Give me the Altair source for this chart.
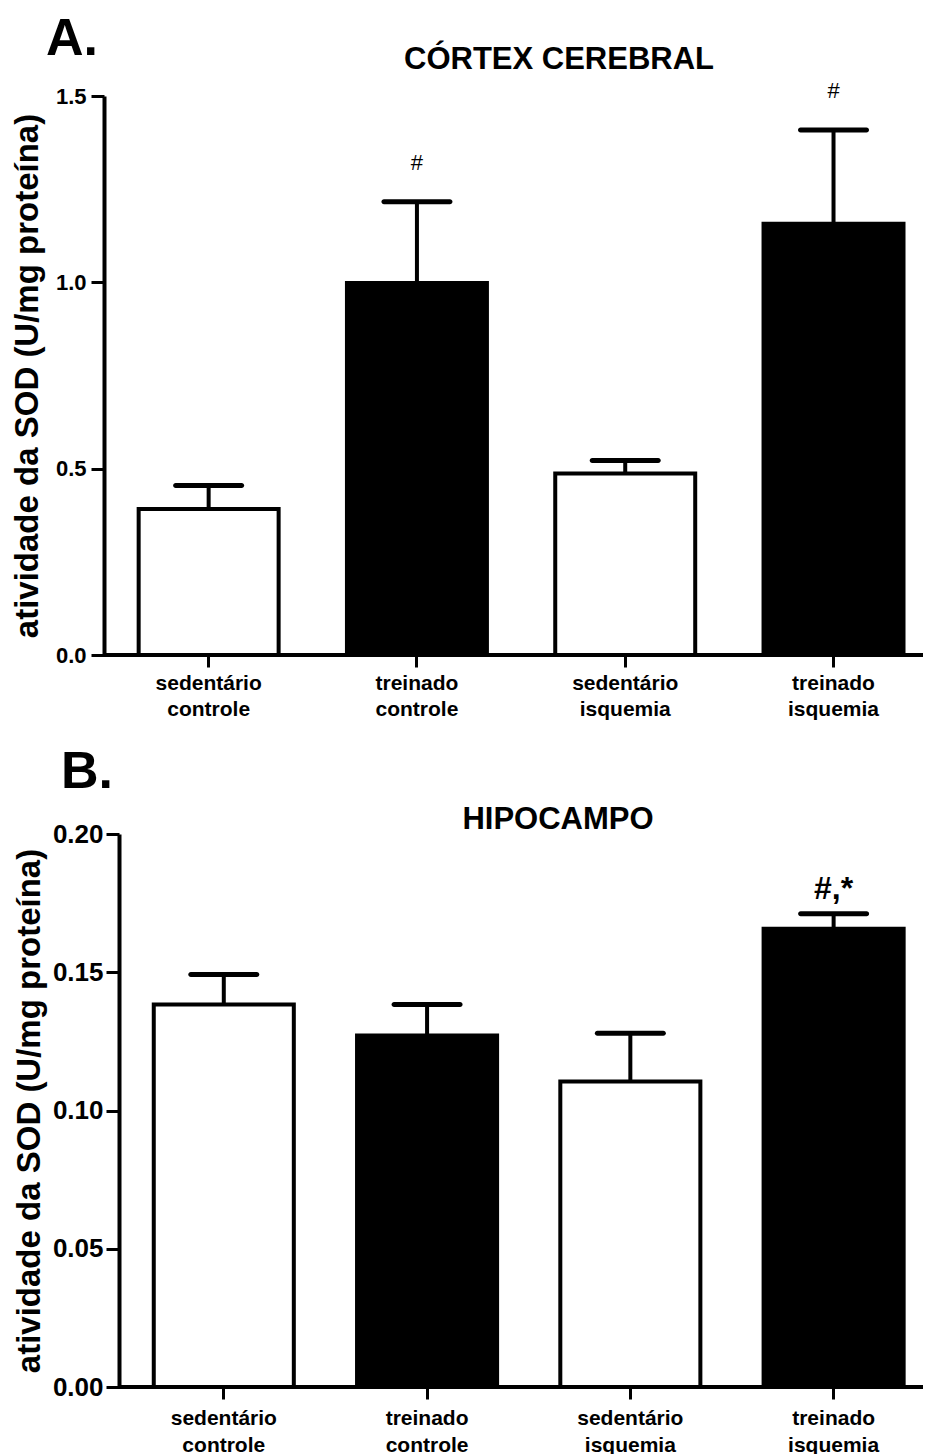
import altair as alt
import pandas as pd

# ---- data ----
categories = ["sedentário|controle", "treinado|controle", "sedentário|isquemia", "treinado|isquemia"]
groups = ["sedentário", "treinado", "sedentário", "treinado"]

cortex_mean = [0.392, 0.998, 0.487, 1.157]
cortex_sem = [0.063, 0.218, 0.035, 0.252]
cortex_marks = ["", "#", "", "#"]

hippo_mean = [0.1383, 0.1271, 0.1105, 0.1657]
hippo_sem = [0.0109, 0.0112, 0.0174, 0.0055]
hippo_marks = ["", "", "", "#,*"]

cortex_ticks = [0.0, 0.5, 1.0, 1.5]
hippo_ticks = [0.0, 0.05, 0.10, 0.15, 0.20]

FONT = "Liberation Sans"
YTITLE = "atividade da SOD (U/mg proteína)"
W = 819


def panel(mean, sem, marks, ticks, fmt, height, pi, po, align,
          tick_font, tick_pad, title_x, y_offset, x_pad, x_lh, letter, letter_xy, head, head_xy,
          mark_font, mark_weight, mark_dy):
    df = pd.DataFrame({
        "cat": categories,
        "grp": groups,
        "mean": mean,
        "top": [m + s for m, s in zip(mean, sem)],
        "mark": marks,
    })
    base = alt.Chart(df)
    xscale = alt.Scale(paddingInner=pi, paddingOuter=po, align=align)
    x = alt.X("cat:N", sort=categories, scale=xscale,
              axis=alt.Axis(title=None, labelExpr="split(datum.label, '|')",
                            labelAngle=0, labelFont=FONT, labelFontWeight="bold",
                            labelFontSize=21, labelColor="black", labelLineHeight=x_lh,
                            labelPadding=x_pad, tickSize=12, tickWidth=3, tickColor="black",
                            domain=False))
    xs = alt.X("cat:N", sort=categories, scale=xscale)
    yscale = alt.Scale(domain=[ticks[0], ticks[-1]], nice=False)
    y = alt.Y("mean:Q", scale=yscale,
              axis=alt.Axis(values=ticks, format=fmt, title=YTITLE, grid=False,
                            titleFont=FONT, titleFontSize=33, titleFontWeight="bold",
                            titleColor="black", titleX=title_x, offset=y_offset,
                            labelFont=FONT, labelFontSize=tick_font, labelFontWeight="bold",
                            labelColor="black", labelPadding=tick_pad,
                            tickSize=13, tickWidth=3, tickColor="black",
                            domainWidth=4, domainColor="black"))
    bars = base.mark_bar(stroke="black", strokeWidth=4).encode(
        x=x, y=y,
        fill=alt.Color("grp:N", scale=alt.Scale(domain=["sedentário", "treinado"],
                                                range=["white", "black"]), legend=None))
    baseline = base.mark_rule(strokeWidth=4, color="black").encode(
        x=alt.value(-y_offset), x2=alt.value(W), y=alt.Y(datum=0, scale=yscale))
    err = base.mark_rule(strokeWidth=4, color="black").encode(
        x=xs, y=alt.Y("mean:Q", scale=yscale), y2="top:Q")
    cap = base.mark_tick(size=71, thickness=5, cornerRadius=2.5, color="black",
                         opacity=1).encode(x=xs, y=alt.Y("top:Q", scale=yscale))
    ann = base.mark_text(font=FONT, fontSize=mark_font, fontWeight=mark_weight,
                         color="black", baseline="alphabetic", dy=mark_dy).encode(
        x=xs, y=alt.Y("top:Q", scale=yscale), text="mark:N")
    lab = alt.Chart(pd.DataFrame({"t": [letter]})).mark_text(
        font=FONT, fontSize=52, fontWeight="bold", color="black",
        align="left", baseline="alphabetic").encode(
        x=alt.value(letter_xy[0]), y=alt.value(letter_xy[1]), text="t:N")
    hd = alt.Chart(pd.DataFrame({"t": [head]})).mark_text(
        font=FONT, fontSize=31, fontWeight="bold", color="black",
        align="center", baseline="alphabetic").encode(
        x=alt.value(head_xy[0]), y=alt.value(head_xy[1]), text="t:N")
    return alt.layer(bars, baseline, err, cap, ann, lab, hd).properties(width=W, height=height)


top = panel(cortex_mean, cortex_sem, cortex_marks, cortex_ticks, ".1f",
            559, 0.328, 0.13, 0.64, 22, 5, -60, 0, 5, 26,
            "A.", (-58, -41), "CÓRTEX CEREBRAL", (455, -27),
            22, "normal", -32)
bottom = panel(hippo_mean, hippo_sem, hippo_marks, hippo_ticks, ".2f",
               553, 0.311, 0.17, 0.72, 26, 3, -73, -15, 8, 27,
               "B.", (-43, -46), "HIPOCAMPO", (454, -5),
               32, "bold", -15)

chart = alt.vconcat(top, bottom, spacing=27).properties(
    padding={"left": 10, "top": 13, "right": 0, "bottom": 0},
    background="white",
).configure_view(stroke=None)

chart.save("out.html", embed_options={"renderer": "svg", "actions": False})
